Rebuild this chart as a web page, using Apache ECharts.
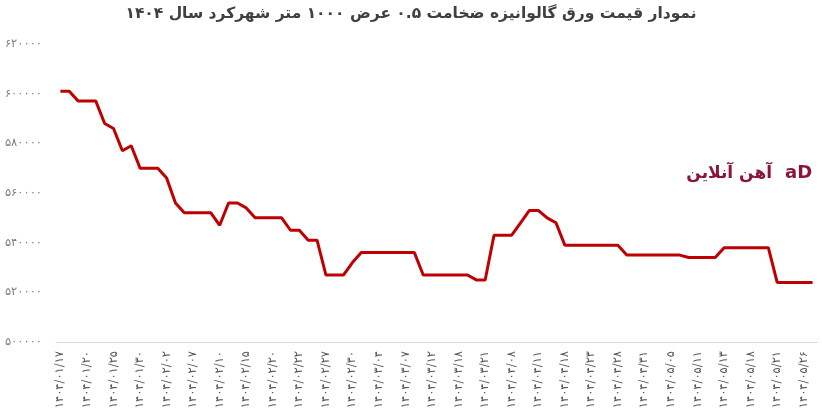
<!DOCTYPE html>
<html>
<head>
<meta charset="utf-8">
<script src="https://cdn.jsdelivr.net/npm/echarts@6/dist/echarts.min.js"></script>
<style>html,body{margin:0;padding:0;background:#fff}#c{width:822px;height:419px}</style>
</head>
<body>
<div id="c"></div>
<script>
const titleText = 'نمودار قیمت ورق گالوانیزه ضخامت ۰.۵ عرض ۱۰۰۰ متر شهرکرد سال ۱۴۰۴';
const brandText = 'آهن آنلاین';
const categories = [
'۱۴۰۴/۰۱/۱۷','۱۴۰۴/۰۱/۱۸','۱۴۰۴/۰۱/۱۹','۱۴۰۴/۰۱/۲۰','۱۴۰۴/۰۱/۲۱','۱۴۰۴/۰۱/۲۳',
'۱۴۰۴/۰۱/۲۵','۱۴۰۴/۰۱/۲۶','۱۴۰۴/۰۱/۲۷','۱۴۰۴/۰۱/۳۰','۱۴۰۴/۰۱/۳۱','۱۴۰۴/۰۲/۰۱',
'۱۴۰۴/۰۲/۰۲','۱۴۰۴/۰۲/۰۴','۱۴۰۴/۰۲/۰۶','۱۴۰۴/۰۲/۰۷','۱۴۰۴/۰۲/۰۸','۱۴۰۴/۰۲/۰۹',
'۱۴۰۴/۰۲/۱۰','۱۴۰۴/۰۲/۱۱','۱۴۰۴/۰۲/۱۳','۱۴۰۴/۰۲/۱۵','۱۴۰۴/۰۲/۱۶','۱۴۰۴/۰۲/۱۸',
'۱۴۰۴/۰۲/۲۰','۱۴۰۴/۰۲/۲۱','۱۴۰۴/۰۲/۲۱','۱۴۰۴/۰۲/۲۲','۱۴۰۴/۰۲/۲۳','۱۴۰۴/۰۲/۲۴',
'۱۴۰۴/۰۲/۲۷','۱۴۰۴/۰۲/۲۸','۱۴۰۴/۰۲/۲۹','۱۴۰۴/۰۲/۳۰','۱۴۰۴/۰۳/۰۱','۱۴۰۴/۰۳/۰۳',
'۱۴۰۴/۰۳/۰۴','۱۴۰۴/۰۳/۰۵','۱۴۰۴/۰۳/۰۶','۱۴۰۴/۰۳/۰۷','۱۴۰۴/۰۳/۰۸','۱۴۰۴/۰۳/۱۰',
'۱۴۰۴/۰۳/۱۲','۱۴۰۴/۰۳/۱۳','۱۴۰۴/۰۳/۱۵','۱۴۰۴/۰۳/۱۸','۱۴۰۴/۰۳/۱۹','۱۴۰۴/۰۳/۲۰',
'۱۴۰۴/۰۳/۲۱','۱۴۰۴/۰۴/۰۱','۱۴۰۴/۰۴/۰۵','۱۴۰۴/۰۴/۰۸','۱۴۰۴/۰۴/۰۹','۱۴۰۴/۰۴/۱۰',
'۱۴۰۴/۰۴/۱۱','۱۴۰۴/۰۴/۱۴','۱۴۰۴/۰۴/۱۶','۱۴۰۴/۰۴/۱۸','۱۴۰۴/۰۴/۲۰','۱۴۰۴/۰۴/۲۱',
'۱۴۰۴/۰۴/۲۳','۱۴۰۴/۰۴/۲۴','۱۴۰۴/۰۴/۲۶','۱۴۰۴/۰۴/۲۸','۱۴۰۴/۰۴/۲۹','۱۴۰۴/۰۴/۳۰',
'۱۴۰۴/۰۴/۳۱','۱۴۰۴/۰۵/۰۱','۱۴۰۴/۰۵/۰۴','۱۴۰۴/۰۵/۰۵','۱۴۰۴/۰۵/۰۷','۱۴۰۴/۰۵/۰۸',
'۱۴۰۴/۰۵/۱۱','۱۴۰۴/۰۵/۱۲','۱۴۰۴/۰۵/۱۲','۱۴۰۴/۰۵/۱۳','۱۴۰۴/۰۵/۱۴','۱۴۰۴/۰۵/۱۵',
'۱۴۰۴/۰۵/۱۸','۱۴۰۴/۰۵/۱۹','۱۴۰۴/۰۵/۲۰','۱۴۰۴/۰۵/۲۱','۱۴۰۴/۰۵/۲۲','۱۴۰۴/۰۵/۲۵',
'۱۴۰۴/۰۵/۲۶','۱۴۰۴/۰۵/۲۷'
];
const prices = [
601000,601000,597000,597000,597000,588000,586000,577000,579000,570000,
570000,570000,566000,556000,552000,552000,552000,552000,547000,556000,
556000,554000,550000,550000,550000,550000,545000,545000,541000,541000,
527000,527000,527000,532000,536000,536000,536000,536000,536000,536000,
536000,527000,527000,527000,527000,527000,527000,525000,525000,543000,
543000,543000,548000,553000,553000,550000,548000,539000,539000,539000,
539000,539000,539000,539000,535000,535000,535000,535000,535000,535000,
535000,534000,534000,534000,534000,538000,538000,538000,538000,538000,
538000,524000,524000,524000,524000,524000
];
const yMin = 500000, yMax = 620000, yStep = 20000;
const faDigits = '۰۱۲۳۴۵۶۷۸۹';
const toFa = s => String(s).replace(/\d/g, d => faDigits[d]);

const chart = echarts.init(document.getElementById('c'));
chart.setOption({
  animation: false,
  backgroundColor: '#ffffff',
  textStyle: { fontFamily: 'DejaVu Sans' },
  title: {
    text: titleText, left: 'center', top: 1,
    textStyle: { fontFamily: 'DejaVu Sans', fontWeight: 'bold', fontSize: 15.5, color: '#404040' }
  },
  grid: { left: 56, right: 5, top: 44, bottom: 77, containLabel: false },
  xAxis: {
    type: 'category', data: categories, boundaryGap: true,
    axisLine: { lineStyle: { color: '#d9d9d9', width: 1 } },
    axisTick: { show: false },
    axisLabel: { interval: 2, rotate: 90, color: '#595959', fontSize: 11.5, margin: 9, fontFamily: 'DejaVu Sans' },
    splitLine: { show: false }
  },
  yAxis: {
    type: 'value', min: yMin, max: yMax, interval: yStep,
    axisLine: { show: false }, axisTick: { show: false },
    splitLine: { show: false },
    axisLabel: { color: '#7f7f7f', fontSize: 11.5, margin: 14, formatter: v => toFa(v), fontFamily: 'DejaVu Sans' }
  },
  series: [{
    type: 'line', data: prices, showSymbol: false, symbol: 'none',
    lineStyle: { color: '#c00000', width: 3 },
    itemStyle: { color: '#c00000' }
  }],
  graphic: [
    { type: 'text', right: 50, top: 165,
      style: { text: brandText, fill: '#8a1538', font: 'bold 17px "DejaVu Sans"' } },
    { type: 'text', left: 785, top: 164,
      style: { text: 'aD', fill: '#8a1538', font: 'bold 18px "DejaVu Sans"' } }
  ]
});
</script>
</body>
</html>
